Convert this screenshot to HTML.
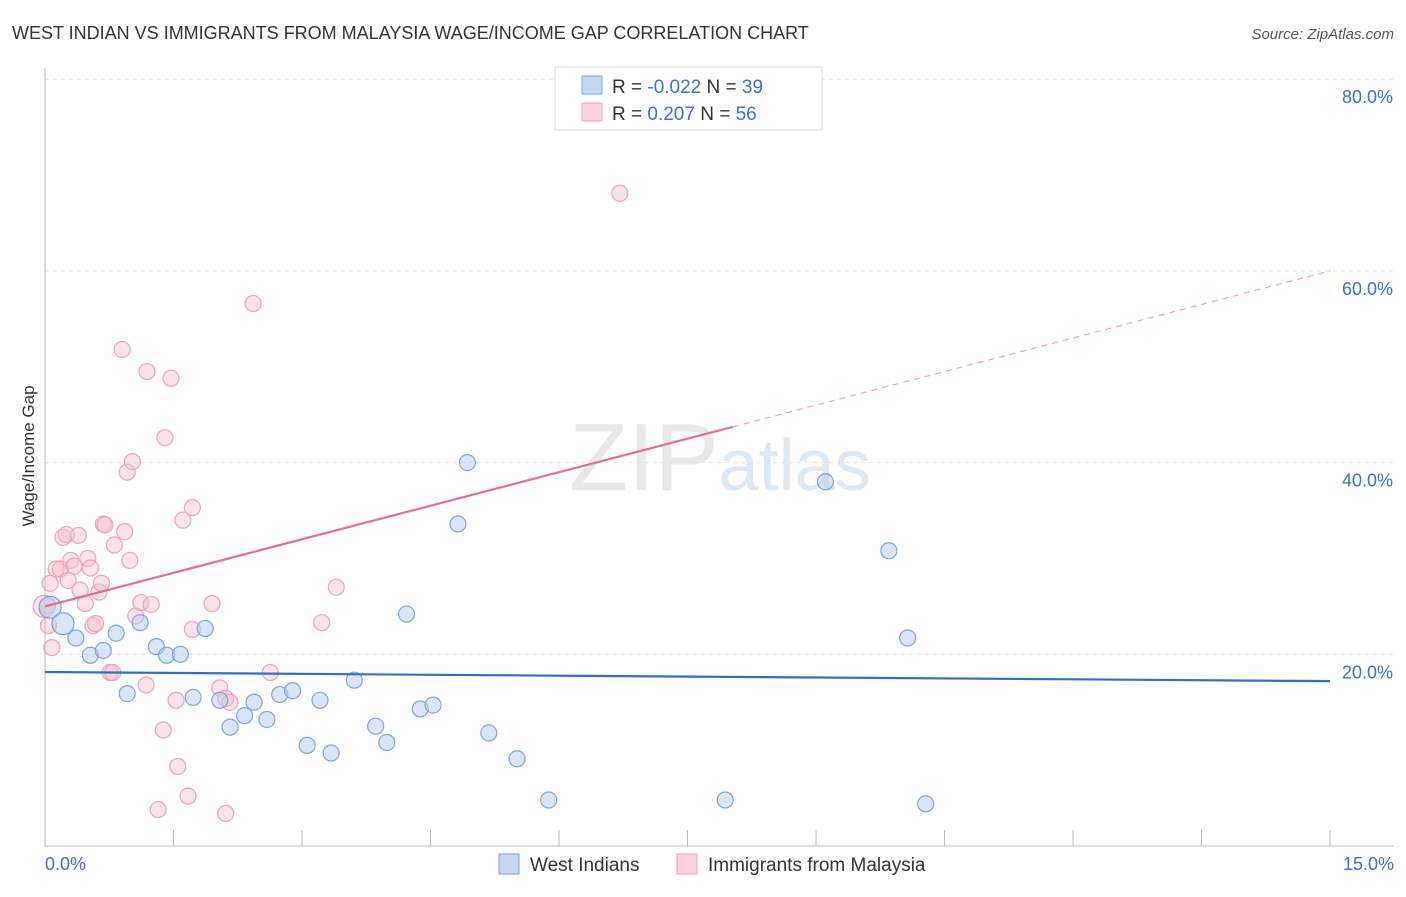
<!DOCTYPE html>
<html><head><meta charset="utf-8"><style>
body{margin:0;background:#fff;font-family:"Liberation Sans",sans-serif}
svg text{font-family:"Liberation Sans",sans-serif}
</style></head><body>
<svg width="1406" height="892" viewBox="0 0 1406 892">
<text x="12" y="39" font-size="18" fill="#333">WEST INDIAN VS IMMIGRANTS FROM MALAYSIA WAGE/INCOME GAP CORRELATION CHART</text>
<text x="1394" y="39" font-size="15" fill="#555" text-anchor="end" font-style="italic">Source: ZipAtlas.com</text>
<text x="720" y="490" font-size="96" fill="#e8e8e8" text-anchor="middle" font-family="Liberation Serif">ZIP<tspan fill="#dde8f5" font-family="Liberation Sans" font-size="72">atlas</tspan></text>
<g id="grid"></g>
<g id="axes"></g>
<text transform="translate(34,456) rotate(-90)" font-size="17" fill="#333" text-anchor="middle">Wage/Income Gap</text>
<g id="marks"></g>
<g>
<rect x="555" y="67" width="267" height="63" fill="#fff" stroke="#ddd"/>
<rect x="582" y="76" width="20" height="18" fill="#c5d9f5" stroke="#7aa6e0"/>
<rect x="582" y="103" width="20" height="18" fill="#fbd0dc" stroke="#eda3b9"/>
<text x="612" y="93" font-size="19" fill="#333">R = <tspan fill="#3a70d0">-0.022</tspan>   N = <tspan fill="#3a70d0">39</tspan></text>
<text x="612" y="120" font-size="19" fill="#333">R =  <tspan fill="#3a70d0"> 0.207</tspan>   N = <tspan fill="#3a70d0">56</tspan></text>
</g>
<g>
<rect x="499" y="854" width="20" height="20" fill="#c5d9f5" stroke="#7aa6e0"/>
<text x="530" y="871" font-size="19" fill="#333">West Indians</text>
<rect x="677" y="854" width="20" height="20" fill="#fbd0dc" stroke="#eda3b9"/>
<text x="708" y="871" font-size="19" fill="#333">Immigrants from Malaysia</text>
</g>
</svg>
<script>
const yTicks=[20,40,60,80];
const xTickLabels=["0.0%","15.0%"];
const blueX=[0.06,0.21,0.36,0.53,0.68,0.83,0.96,1.11,1.30,1.42,1.58,1.73,1.87,2.04,2.16,2.33,2.44,2.59,2.74,2.89,3.06,3.21,3.34,3.61,3.86,3.99,4.22,4.38,4.53,4.82,4.93,5.18,5.51,5.88,7.94,9.11,9.85,10.07,10.28];
const blueY=[24.9,23.2,21.7,19.9,20.4,22.2,15.9,23.3,20.8,19.9,20.0,15.5,22.7,15.2,12.4,13.6,15.0,13.2,15.8,16.2,10.5,15.2,9.7,17.3,12.5,10.8,24.2,14.3,14.7,33.6,40.0,11.8,9.1,4.8,4.8,38.0,30.8,21.7,4.4];
const pinkX=[-0.01,0.03,0.06,0.08,0.13,0.18,0.21,0.25,0.27,0.30,0.34,0.39,0.41,0.47,0.50,0.53,0.56,0.59,0.63,0.66,0.68,0.70,0.76,0.79,0.81,0.90,0.93,0.96,0.99,1.02,1.06,1.12,1.18,1.19,1.24,1.32,1.38,1.40,1.47,1.53,1.55,1.61,1.67,1.72,1.72,1.95,2.04,2.11,2.11,2.16,2.43,2.63,3.23,3.40,6.71,0.04];
const pinkY=[25.0,25.1,27.4,20.7,28.9,28.9,32.2,32.5,27.7,29.8,29.2,32.4,26.7,25.3,30.0,29.0,23.0,23.2,26.5,27.4,33.6,33.5,18.1,18.1,31.4,51.8,32.8,39.0,29.8,40.1,24.0,25.4,16.8,49.5,25.2,3.8,12.1,42.6,48.8,15.2,8.3,34.0,5.2,35.3,22.6,25.3,16.5,3.4,15.4,15.0,56.6,18.1,23.3,27.0,68.1,23.0];
const blueLine=[18.15,17.2];
const pinkLine=[25.0,60.0];
const pinkSolidEnd=8.03;
const NS="http://www.w3.org/2000/svg";
const X=v=>45+v*85.67, Y=v=>846-v*9.585;
function mk(t,a,p){const e=document.createElementNS(NS,t);for(const k in a)e.setAttribute(k,a[k]);(p||document.getElementById('marks')).appendChild(e);return e;}
const g=document.getElementById('grid'),ax=document.getElementById('axes');
yTicks.forEach(t=>{const l=mk('line',{x1:45,x2:1394,y1:Y(t),y2:Y(t),stroke:'#e4e4e4','stroke-dasharray':'4,4'},g);

const tx=mk('text',{x:1393,y:Y(t)+24,'font-size':18,fill:'#3a70d0','text-anchor':'end'},ax);tx.textContent=t.toFixed(1)+'%';
});
mk('line',{x1:45,x2:45,y1:68,y2:846,stroke:'#bbb'},ax);
mk('line',{x1:45,x2:1394,y1:846,y2:846,stroke:'#bbb'},ax);
for(let i=1;i<=10;i++){const t=mk('line',{x1:X(i*1.5),x2:X(i*1.5),y1:846,y2:830,stroke:'#bbb'},ax);}
const t0=mk('text',{x:45,y:870,'font-size':18,fill:'#3a70d0'},ax);t0.textContent=xTickLabels[0];

const t1=mk('text',{x:1394,y:870,'font-size':18,fill:'#3a70d0','text-anchor':'end'},ax);t1.textContent=xTickLabels[1];

pinkX.forEach((x,i)=>{const r=i==0?11:8;const c=mk('circle',{cx:X(x),cy:Y(pinkY[i]),r:r,fill:'rgba(248,190,208,0.45)',stroke:'#eda3b9','stroke-width':1.2});
});
blueX.forEach((x,i)=>{const r=i<2?11:8;const c=mk('circle',{cx:X(x),cy:Y(blueY[i]),r:r,fill:'rgba(180,205,245,0.5)',stroke:'#7aa6e0','stroke-width':1.2});
});
const bl=mk('line',{x1:X(0),y1:Y(blueLine[0]),x2:X(15),y2:Y(blueLine[1]),stroke:'#2d6fd0','stroke-width':2.2});

const pm=pinkLine[0]+(pinkLine[1]-pinkLine[0])*pinkSolidEnd/15;
const pl=mk('line',{x1:X(0),y1:Y(pinkLine[0]),x2:X(pinkSolidEnd),y2:Y(pm),stroke:'#e66d94','stroke-width':2.2});

const pd=mk('line',{x1:X(pinkSolidEnd),y1:Y(pm),x2:X(15),y2:Y(pinkLine[1]),stroke:'#eda3b9','stroke-width':1.2,'stroke-dasharray':'6,5'});

</script>
</body></html>
